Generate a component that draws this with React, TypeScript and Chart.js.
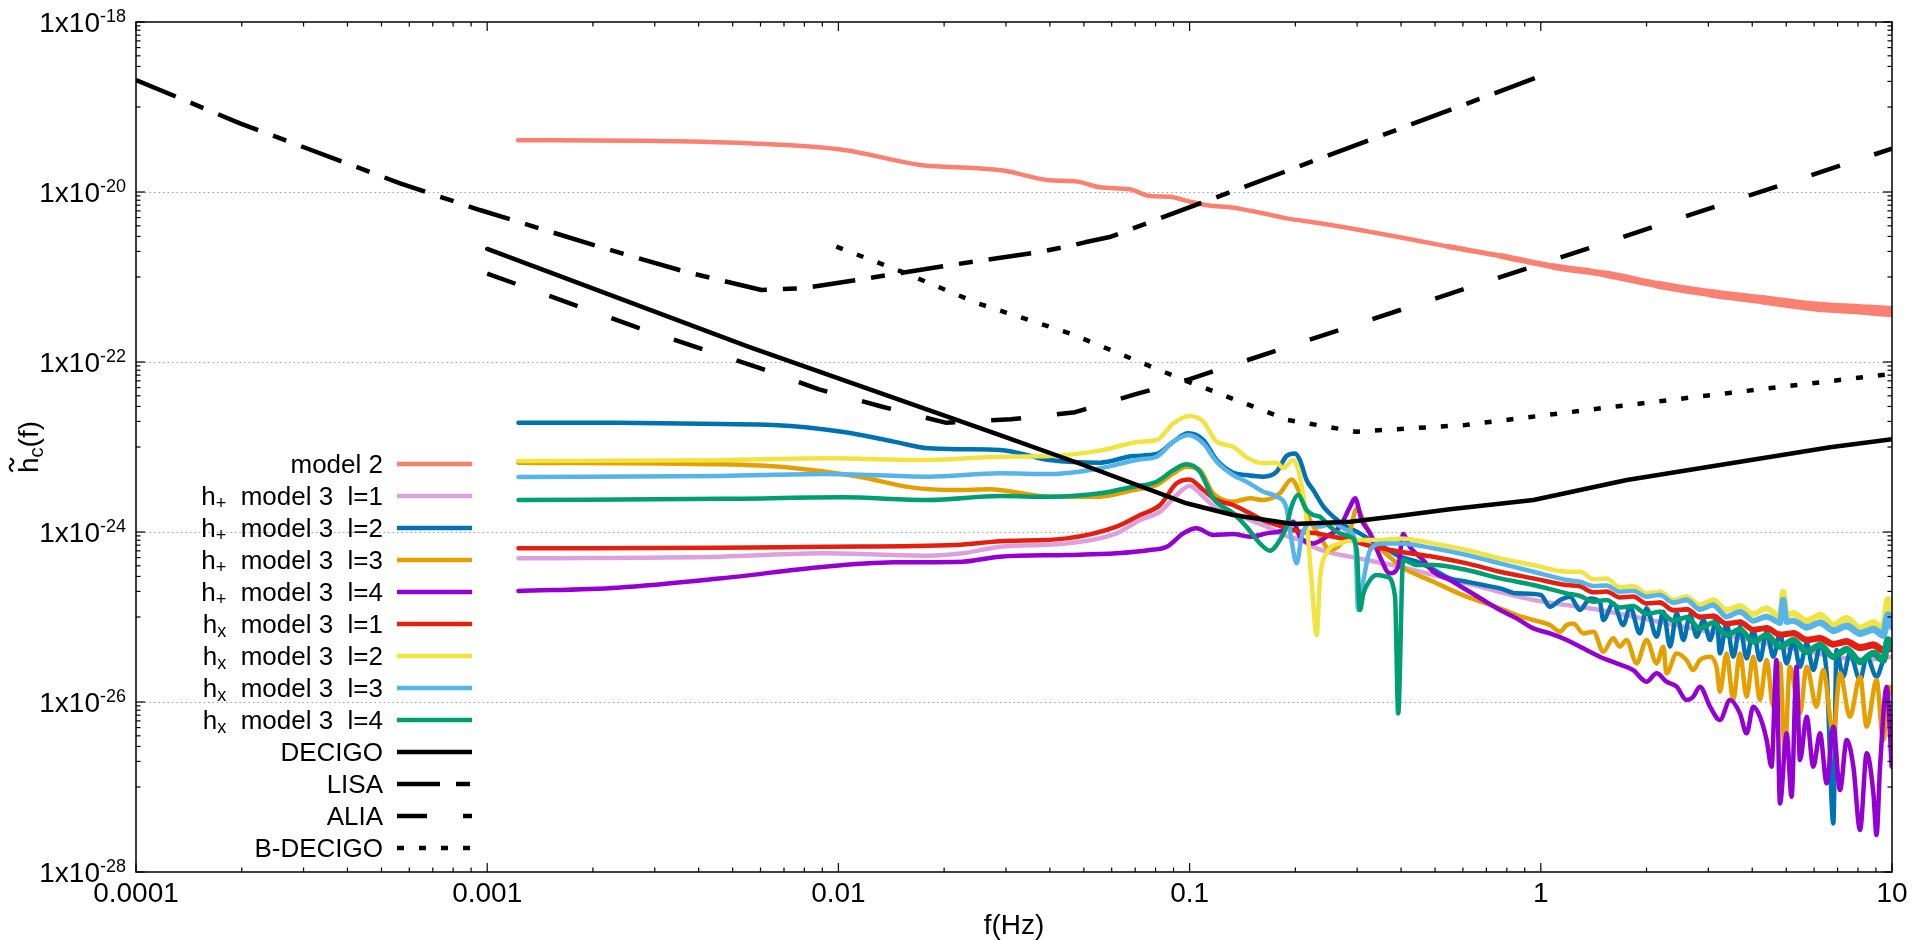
import React, { useEffect, useRef } from 'react';
import { Chart, registerables } from 'chart.js';

Chart.register(...registerables);

type P = [number, number]; // [log10 f (Hz), log10 h_c]

// ---------- data (log10 values) ----------
const model2: P[] = [
  [-2.912, -19.39], [-2.585, -19.396], [-2.257, -19.427], [-1.984, -19.506], [-1.766, -19.682], [-1.603, -19.721],
  [-1.526, -19.749], [-1.406, -19.859], [-1.319, -19.878], [-1.255, -19.945], [-1.17, -19.968], [-1.113, -20.047],
  [-1.056, -20.055], [-0.999, -20.114], [-0.933, -20.165], [-0.894, -20.173], [-0.828, -20.22], [-0.781, -20.259],
  [-0.724, -20.31], [-0.638, -20.361], [-0.543, -20.427], [-0.401, -20.533], [-0.263, -20.643], [-0.113, -20.753],
  [0.037, -20.878], [0.187, -20.968], [0.337, -21.094], [0.486, -21.192], [0.636, -21.27], [0.786, -21.349],
  [0.936, -21.388], [1.0, -21.408],
];

const hPlusL1: P[] = [
  [-2.911, -24.31], [-2.333, -24.29], [-2.039, -24.251], [-1.744, -24.278], [-1.646, -24.25], [-1.54, -24.173],
  [-1.35, -24.134], [-1.208, -24.016], [-1.141, -23.859], [-1.084, -23.761], [-1.037, -23.565], [-1.0, -23.459],
  [-0.961, -23.585], [-0.923, -23.722], [-0.876, -23.78], [-0.828, -23.859], [-0.781, -23.937], [-0.733, -24.035],
  [-0.686, -24.094], [-0.638, -24.192], [-0.591, -24.251], [-0.543, -24.29], [-0.496, -24.33], [-0.401, -24.408],
  [-0.306, -24.506], [-0.211, -24.604], [-0.021, -24.8], [0.074, -24.859], [0.168, -24.918], [0.358, -25.075],
  [0.548, -25.232], [0.738, -25.389], [0.928, -25.506], [1.0, -25.467],
];

const hPlusL2: P[] = [
  [-2.911, -22.714], [-2.628, -22.716], [-2.333, -22.73], [-2.186, -22.741], [-1.99, -22.82], [-1.842, -22.937],
  [-1.744, -23.016], [-1.646, -23.027], [-1.54, -23.035], [-1.398, -23.153], [-1.255, -23.184], [-1.16, -23.106],
  [-1.094, -23.083], [-1.046, -22.937], [-1.004, -22.839], [-0.961, -22.918], [-0.923, -23.153], [-0.876, -23.302],
  [-0.838, -23.33], [-0.79, -23.349], [-0.752, -23.29], [-0.724, -23.106], [-0.7, -23.075], [-0.686, -23.153],
  [-0.667, -23.388], [-0.648, -23.506], [-0.619, -23.702], [-0.591, -23.82], [-0.553, -23.937], [-0.515, -24.016],
  [-0.486, -24.094], [-0.449, -24.173], [-0.401, -24.29], [-0.353, -24.349], [-0.306, -24.44], [-0.259, -24.546],
  [-0.211, -24.585], [-0.164, -24.624], [-0.116, -24.663], [-0.069, -24.722], [0.0, -24.741], [0.026, -24.879],
  [0.055, -24.8], [0.083, -24.761], [0.112, -24.918], [0.14, -24.781], [0.168, -24.82], [0.178, -25.036],
  [0.206, -24.84], [0.235, -25.094], [0.254, -24.879], [0.282, -25.193], [0.301, -24.898], [0.33, -25.232],
  [0.349, -24.938], [0.368, -25.349], [0.387, -24.957], [0.406, -25.271], [0.425, -24.977], [0.444, -25.232],
  [0.463, -25.036], [0.482, -25.271], [0.501, -24.996], [0.51, -25.428], [0.529, -25.075], [0.548, -25.467],
  [0.567, -25.114], [0.586, -25.487], [0.605, -25.153], [0.624, -25.506], [0.643, -25.173], [0.662, -25.467],
  [0.681, -25.193], [0.7, -25.546], [0.719, -25.271], [0.738, -25.585], [0.757, -25.31], [0.776, -25.624],
  [0.795, -25.349], [0.814, -25.663], [0.833, -27.428], [0.842, -25.389], [0.861, -25.702], [0.88, -25.428],
  [0.909, -25.742], [0.928, -25.467], [0.956, -25.702], [0.975, -25.506], [0.994, -25.271], [1.0, -25.389],
];

const hPlusL3: P[] = [
  [-2.911, -23.184], [-2.333, -23.204], [-2.137, -23.243], [-1.941, -23.349], [-1.793, -23.475], [-1.665, -23.506],
  [-1.567, -23.498], [-1.54, -23.506], [-1.398, -23.585], [-1.255, -23.585], [-1.16, -23.506], [-1.094, -23.447],
  [-1.046, -23.31], [-1.009, -23.232], [-0.971, -23.271], [-0.933, -23.545], [-0.876, -23.643], [-0.828, -23.604],
  [-0.79, -23.624], [-0.743, -23.545], [-0.71, -23.381], [-0.686, -23.545], [-0.657, -23.859], [-0.629, -24.055],
  [-0.6, -24.212], [-0.572, -24.153], [-0.543, -23.976], [-0.524, -23.722], [-0.505, -23.859], [-0.477, -24.094],
  [-0.42, -24.33], [-0.401, -24.4], [-0.306, -24.585], [-0.211, -24.761], [-0.116, -24.898], [-0.069, -24.977],
  [-0.021, -25.036], [0.026, -25.094], [0.055, -25.173], [0.074, -25.094], [0.093, -25.075], [0.121, -25.193],
  [0.15, -25.173], [0.178, -25.408], [0.206, -25.251], [0.225, -25.349], [0.244, -25.271], [0.273, -25.546],
  [0.301, -25.271], [0.33, -25.546], [0.349, -25.349], [0.358, -25.663], [0.387, -25.428], [0.415, -25.506],
  [0.434, -25.624], [0.453, -25.506], [0.482, -25.467], [0.501, -25.604], [0.51, -25.879], [0.529, -25.428],
  [0.548, -25.977], [0.567, -25.428], [0.586, -25.938], [0.605, -25.467], [0.624, -25.977], [0.643, -25.506],
  [0.662, -26.055], [0.681, -25.546], [0.695, -26.604], [0.709, -25.585], [0.738, -26.134], [0.757, -25.585],
  [0.785, -26.055], [0.804, -25.624], [0.833, -26.369], [0.852, -25.663], [0.88, -26.173], [0.909, -25.702],
  [0.928, -26.291], [0.956, -25.742], [0.975, -26.447], [0.994, -25.82], [1.0, -25.9],
];

const hPlusL4: P[] = [
  [-2.911, -24.694], [-2.628, -24.655], [-2.333, -24.545], [-2.039, -24.408], [-1.842, -24.357], [-1.646, -24.349],
  [-1.54, -24.29], [-1.35, -24.27], [-1.208, -24.251], [-1.113, -24.212], [-1.065, -24.173], [-1.018, -24.016],
  [-0.98, -23.957], [-0.933, -24.035], [-0.876, -24.024], [-0.828, -24.055], [-0.781, -24.016], [-0.733, -23.976],
  [-0.705, -23.879], [-0.686, -24.055], [-0.648, -24.134], [-0.61, -24.055], [-0.572, -23.937], [-0.543, -23.702],
  [-0.529, -23.604], [-0.51, -23.859], [-0.486, -24.016], [-0.458, -24.29], [-0.43, -24.486], [-0.406, -24.408],
  [-0.392, -24.024], [-0.373, -24.173], [-0.335, -24.33], [-0.306, -24.467], [-0.259, -24.565], [-0.211, -24.682],
  [-0.164, -24.8], [-0.116, -24.918], [-0.069, -25.016], [-0.021, -25.134], [0.026, -25.193], [0.074, -25.271],
  [0.121, -25.369], [0.168, -25.467], [0.216, -25.546], [0.263, -25.624], [0.301, -25.761], [0.33, -25.663],
  [0.358, -25.761], [0.387, -25.82], [0.415, -25.977], [0.434, -25.938], [0.453, -25.82], [0.482, -26.055],
  [0.51, -26.212], [0.539, -25.977], [0.567, -26.134], [0.586, -26.369], [0.605, -26.055], [0.624, -26.173],
  [0.643, -26.447], [0.657, -26.761], [0.671, -25.506], [0.681, -27.193], [0.7, -26.369], [0.714, -27.114],
  [0.728, -25.585], [0.738, -26.683], [0.757, -26.173], [0.776, -26.761], [0.795, -26.369], [0.814, -26.957],
  [0.833, -26.291], [0.852, -27.036], [0.871, -26.447], [0.89, -26.761], [0.909, -27.506], [0.928, -26.604],
  [0.947, -27.075], [0.956, -27.565], [0.966, -26.761], [0.985, -25.82], [0.999, -26.761],
];

const hCrossL1: P[] = [
  [-2.911, -24.192], [-2.333, -24.185], [-2.039, -24.173], [-1.665, -24.153], [-1.54, -24.11], [-1.35, -24.075],
  [-1.208, -23.937], [-1.141, -23.8], [-1.084, -23.682], [-1.037, -23.427], [-1.0, -23.381], [-0.961, -23.506],
  [-0.923, -23.624], [-0.876, -23.682], [-0.828, -23.78], [-0.781, -23.879], [-0.733, -23.937], [-0.686, -23.996],
  [-0.638, -24.016], [-0.591, -24.055], [-0.543, -24.094], [-0.496, -24.153], [-0.401, -24.232], [-0.306, -24.291],
  [-0.211, -24.369], [-0.116, -24.467], [-0.021, -24.546], [0.074, -24.624], [0.112, -24.64], [0.15, -24.71],
  [0.187, -24.7], [0.225, -24.77], [0.263, -24.76], [0.301, -24.84], [0.339, -24.83], [0.377, -24.92],
  [0.415, -24.91], [0.453, -25.0], [0.491, -24.99], [0.529, -25.08], [0.567, -25.06], [0.605, -25.15],
  [0.643, -25.13], [0.681, -25.21], [0.719, -25.19], [0.757, -25.27], [0.795, -25.25], [0.833, -25.32],
  [0.871, -25.29], [0.909, -25.36], [0.947, -25.33], [0.975, -25.39], [1.0, -25.36],
];

const hCrossL2: P[] = [
  [-2.911, -23.165], [-2.333, -23.155], [-2.039, -23.133], [-1.744, -23.153], [-1.54, -23.114], [-1.398, -23.106],
  [-1.255, -23.043], [-1.141, -22.937], [-1.094, -22.918], [-1.046, -22.722], [-1.0, -22.636], [-0.961, -22.702],
  [-0.923, -22.937], [-0.876, -22.996], [-0.838, -23.122], [-0.79, -23.192], [-0.752, -23.184], [-0.733, -23.251],
  [-0.705, -23.153], [-0.686, -23.349], [-0.667, -23.859], [-0.653, -24.565], [-0.638, -25.212], [-0.629, -24.565],
  [-0.61, -24.251], [-0.572, -24.134], [-0.515, -24.094], [-0.449, -24.094], [-0.401, -24.075], [-0.306, -24.134],
  [-0.211, -24.212], [-0.116, -24.31], [-0.021, -24.389], [0.074, -24.467], [0.112, -24.467], [0.15, -24.557],
  [0.187, -24.547], [0.225, -24.651], [0.263, -24.636], [0.301, -24.722], [0.339, -24.702], [0.377, -24.8],
  [0.415, -24.761], [0.453, -24.859], [0.491, -24.8], [0.529, -24.918], [0.567, -24.871], [0.605, -24.965],
  [0.643, -24.898], [0.681, -24.996], [0.69, -24.702], [0.7, -24.977], [0.719, -24.957], [0.757, -25.044],
  [0.795, -24.977], [0.833, -25.094], [0.871, -25.016], [0.909, -25.134], [0.947, -25.067], [0.975, -25.146],
  [0.989, -24.8], [1.0, -24.957],
];

const hCrossL3: P[] = [
  [-2.911, -23.353], [-2.333, -23.34], [-2.039, -23.318], [-1.744, -23.349], [-1.54, -23.31], [-1.398, -23.318],
  [-1.255, -23.251], [-1.141, -23.145], [-1.094, -23.114], [-1.046, -22.937], [-1.004, -22.859], [-0.961, -22.957],
  [-0.923, -23.173], [-0.876, -23.33], [-0.838, -23.408], [-0.79, -23.526], [-0.752, -23.585], [-0.724, -23.722],
  [-0.71, -24.094], [-0.695, -24.369], [-0.681, -24.055], [-0.657, -23.898], [-0.629, -23.937], [-0.591, -23.898],
  [-0.553, -23.976], [-0.529, -24.094], [-0.52, -24.918], [-0.505, -24.565], [-0.486, -24.212], [-0.449, -24.134],
  [-0.401, -24.134], [-0.306, -24.192], [-0.211, -24.271], [-0.116, -24.369], [-0.021, -24.467], [0.074, -24.565],
  [0.112, -24.585], [0.15, -24.636], [0.187, -24.63], [0.225, -24.702], [0.263, -24.691], [0.301, -24.761],
  [0.339, -24.741], [0.377, -24.832], [0.415, -24.8], [0.453, -24.91], [0.491, -24.859], [0.529, -24.996],
  [0.567, -24.938], [0.605, -25.044], [0.643, -24.996], [0.681, -25.067], [0.69, -24.8], [0.7, -25.055],
  [0.719, -25.044], [0.757, -25.122], [0.795, -25.067], [0.833, -25.161], [0.871, -25.106], [0.909, -25.193],
  [0.947, -25.146], [0.975, -25.212], [0.989, -24.977], [1.0, -25.114],
];

const hCrossL4: P[] = [
  [-2.911, -23.624], [-2.333, -23.61], [-1.99, -23.592], [-1.744, -23.624], [-1.54, -23.577], [-1.398, -23.585],
  [-1.255, -23.545], [-1.16, -23.467], [-1.094, -23.408], [-1.046, -23.271], [-1.009, -23.204], [-0.971, -23.29],
  [-0.933, -23.604], [-0.876, -23.78], [-0.838, -23.937], [-0.8, -24.134], [-0.771, -24.22], [-0.743, -24.094],
  [-0.724, -23.937], [-0.71, -23.702], [-0.691, -23.565], [-0.667, -23.741], [-0.648, -23.8], [-0.629, -23.82],
  [-0.6, -23.937], [-0.572, -24.016], [-0.543, -24.055], [-0.524, -24.212], [-0.515, -24.918], [-0.505, -24.722],
  [-0.486, -24.565], [-0.467, -24.506], [-0.439, -24.526], [-0.415, -24.761], [-0.406, -26.134], [-0.392, -24.33],
  [-0.354, -24.388], [-0.306, -24.389], [-0.211, -24.447], [-0.116, -24.546], [-0.021, -24.624], [0.074, -24.722],
  [0.112, -24.753], [0.15, -24.82], [0.187, -24.8], [0.225, -24.887], [0.263, -24.871], [0.301, -24.965],
  [0.339, -24.938], [0.377, -25.044], [0.415, -25.004], [0.453, -25.134], [0.491, -25.067], [0.529, -25.212],
  [0.567, -25.146], [0.605, -25.291], [0.643, -25.212], [0.681, -25.349], [0.719, -25.271], [0.757, -25.408],
  [0.795, -25.33], [0.833, -25.467], [0.871, -25.381], [0.909, -25.526], [0.947, -25.428], [0.975, -25.506],
  [0.989, -25.271], [1.0, -25.349],
];

const decigo: P[] = [
  [-3.0, -20.67], [-2.257, -21.82], [-1.54, -22.86], [-1.31, -23.2], [-1.009, -23.662], [-0.876, -23.8],
  [-0.705, -23.906], [-0.543, -23.879], [-0.401, -23.81], [-0.259, -23.733], [-0.021, -23.624], [0.245, -23.388],
  [0.824, -23.004], [1.0, -22.91],
];

const lisa: P[] = [
  [-4.0, -18.682], [-3.704, -19.192], [-3.248, -19.898], [-3.021, -20.212], [-2.682, -20.643], [-2.437, -20.937],
  [-2.219, -21.153], [-2.104, -21.133], [-1.935, -21.027], [-1.679, -20.859], [-1.422, -20.702], [-1.341, -20.635],
  [-1.298, -20.592], [-1.224, -20.526], [0.0, -18.635],
];

const alia: P[] = [
  [-3.0, -20.96], [-2.579, -21.585], [-2.23, -22.063], [-2.055, -22.322], [-1.875, -22.526], [-1.695, -22.714],
  [-1.591, -22.69], [-1.509, -22.674], [-1.326, -22.59], [-1.151, -22.376], [-1.008, -22.212], [1.0, -19.49],
];

const bDecigo: P[] = [
  [-2.006, -20.643], [-1.82, -20.937], [-1.603, -21.31], [-1.341, -21.663], [-1.016, -22.212], [-0.72, -22.682],
  [-0.526, -22.82], [-0.215, -22.741], [0.171, -22.545], [0.542, -22.361], [1.0, -22.14],
];

const seriesLabels = [
  'model 2',
  'h₊  model 3  l=1', 'h₊  model 3  l=2', 'h₊  model 3  l=3', 'h₊  model 3  l=4',
  'hₓ  model 3  l=1', 'hₓ  model 3  l=2', 'hₓ  model 3  l=3', 'hₓ  model 3  l=4',
  'DECIGO', 'LISA', 'ALIA', 'B-DECIGO',
];
const seriesData: P[][] = [
  model2, hPlusL1, hPlusL2, hPlusL3, hPlusL4, hCrossL1, hCrossL2, hCrossL3, hCrossL4, decigo, lisa, alia, bDecigo,
];

const xTickValues = [1e-4, 1e-3, 1e-2, 1e-1, 1, 10];
const xTickLabels = ['0.0001', '0.001', '0.01', '0.1', '1', '10'];
const yTickExponents = [-18, -20, -22, -24, -26, -28];
const xTitle = 'f(Hz)';

// ---------- styles ----------
const FONT = '"Liberation Sans", Arial, Helvetica, sans-serif';
const colors = [
  '#FA8072', '#DDA0DD', '#0072B2', '#E69F00', '#9400D3', '#E51E10', '#F0E442', '#56B4E9', '#009E73',
  '#000000', '#000000', '#000000', '#000000',
];
const dashes: number[][] = [[], [], [], [], [], [], [], [], [], [], [43, 16, 14, 16], [30, 36], [7, 15]];
const smooth = [true, true, true, true, true, true, true, true, true, false, false, false, false];
// which series get a thickening noise band at high frequency: [start log10 f, growth per decade]
const bands: ([number, number] | null)[] = [
  [-0.4, 5], null, null, null, null, [0.3, 4], [0.3, 4], [0.3, 4], [0.3, 4], null, null, null, null,
];
const LINE_W = 4.5;

const frame = { left: 136, top: 22, right: 1892, bottom: 872 };

const axesPlugin = {
  id: 'gnuplotAxes',
  beforeDatasetsDraw(chart: any) {
    const { ctx } = chart;
    const ys = chart.scales.y;
    const { left, right } = chart.chartArea;
    ctx.save();
    ctx.strokeStyle = '#a0a0a0';
    ctx.lineWidth = 1;
    ctx.setLineDash([1.5, 3]);
    yTickExponents.forEach((e) => {
      if (e === -18 || e === -28) return;
      const y = Math.round(ys.getPixelForValue(Math.pow(10, e))) + 0.5;
      ctx.beginPath();
      ctx.moveTo(left, y);
      ctx.lineTo(right, y);
      ctx.stroke();
    });
    ctx.restore();
  },
  afterDatasetsDraw(chart: any) {
    const { ctx } = chart;
    const xs = chart.scales.x;
    const ys = chart.scales.y;
    const { left, right, top, bottom } = chart.chartArea;
    ctx.save();
    ctx.setLineDash([]);
    ctx.strokeStyle = '#000';
    ctx.lineWidth = 1.5;
    ctx.strokeRect(left, top, right - left, bottom - top);

    ctx.lineWidth = 1.2;
    const tick = (x1: number, y1: number, x2: number, y2: number) => {
      ctx.beginPath();
      ctx.moveTo(x1, y1);
      ctx.lineTo(x2, y2);
      ctx.stroke();
    };
    for (let n = -4; n <= 1; n++) {
      const xm = xs.getPixelForValue(Math.pow(10, n));
      tick(xm, bottom, xm, bottom - 9);
      tick(xm, top, xm, top + 9);
      if (n < 1) {
        for (let k = 2; k <= 9; k++) {
          const x = xs.getPixelForValue(k * Math.pow(10, n));
          tick(x, bottom, x, bottom - 4.5);
          tick(x, top, x, top + 4.5);
        }
      }
    }
    yTickExponents.forEach((e) => {
      const y = ys.getPixelForValue(Math.pow(10, e));
      tick(left, y, left + 9, y);
      tick(right, y, right - 9, y);
      if (e > -28) {
        for (let j = 1; j <= 9; j++) {
          const ym = ys.getPixelForValue(j * Math.pow(10, e - 1));
          tick(left, ym, left + 4.5, ym);
          tick(right, ym, right - 4.5, ym);
        }
      }
    });

    ctx.fillStyle = '#000';
    ctx.font = `28px ${FONT}`;
    ctx.textAlign = 'center';
    ctx.textBaseline = 'alphabetic';
    xTickValues.forEach((v, i) => {
      ctx.fillText(xTickLabels[i], xs.getPixelForValue(v), 902);
    });
    yTickExponents.forEach((e) => {
      const y = ys.getPixelForValue(Math.pow(10, e));
      const sup = String(e);
      ctx.font = `18px ${FONT}`;
      const ws = ctx.measureText(sup).width;
      ctx.textAlign = 'left';
      ctx.fillText(sup, 126 - ws, y);
      ctx.font = `28px ${FONT}`;
      ctx.textAlign = 'right';
      ctx.fillText('1x10', 126 - ws, y + 10);
    });
    ctx.font = `28px ${FONT}`;
    ctx.textAlign = 'center';
    ctx.fillText(xTitle, (left + right) / 2, 934);

    // y title
    ctx.save();
    ctx.translate(38, (top + bottom) / 2);
    ctx.rotate(-Math.PI / 2);
    ctx.textAlign = 'left';
    ctx.font = `28px ${FONT}`;
    const wh = ctx.measureText('h').width;
    ctx.font = `20px ${FONT}`;
    const wc = ctx.measureText('c').width;
    ctx.font = `28px ${FONT}`;
    const wf = ctx.measureText('(f)').width;
    const x0 = -(wh + wc + wf) / 2;
    ctx.fillText('h', x0, 0);
    ctx.font = `20px ${FONT}`;
    ctx.fillText('c', x0 + wh, 5);
    ctx.font = `28px ${FONT}`;
    ctx.fillText('(f)', x0 + wh + wc, 0);
    ctx.lineWidth = 2;
    ctx.beginPath();
    const tx = x0 + 1.5;
    const ty = -26.5;
    ctx.moveTo(tx, ty + 1.5);
    ctx.bezierCurveTo(tx + 3, ty - 3.5, tx + 6, ty - 2, tx + 7, ty);
    ctx.bezierCurveTo(tx + 8, ty + 2, tx + 11, ty + 3.5, tx + 13, ty - 1.5);
    ctx.stroke();
    ctx.restore();

    // legend
    seriesLabels.forEach((label, i) => {
      const y = 464 + i * 32;
      ctx.save();
      ctx.strokeStyle = colors[i];
      ctx.lineWidth = LINE_W;
      ctx.lineCap = 'butt';
      ctx.setLineDash(dashes[i]);
      ctx.beginPath();
      ctx.moveTo(397, y);
      ctx.lineTo(472, y);
      ctx.stroke();
      ctx.restore();

      ctx.fillStyle = '#000';
      ctx.textAlign = 'right';
      let rx = 383;
      const m = label.match(/^h([₊ₓ])(.*)$/);
      if (m) {
        ctx.font = `26px ${FONT}`;
        ctx.fillText(m[2], rx, y + 9);
        rx -= ctx.measureText(m[2]).width;
        const sub = m[1] === '₊' ? '+' : 'x';
        ctx.font = `18px ${FONT}`;
        ctx.fillText(sub, rx, y + 13);
        rx -= ctx.measureText(sub).width;
        ctx.font = `26px ${FONT}`;
        ctx.fillText('h', rx, y + 9);
      } else {
        ctx.font = `26px ${FONT}`;
        ctx.fillText(label, rx, y + 9);
      }
    });
    ctx.restore();
  },
};

export default function App() {
  const ref = useRef<HTMLCanvasElement>(null);
  useEffect(() => {
    document.body.style.margin = '0';
    const canvas = ref.current;
    if (!canvas) return;
    const datasets = seriesData.map((pts, i) => {
      const band = bands[i];
      const ds: any = {
        label: seriesLabels[i],
        data: pts.map((p) => ({ x: Math.pow(10, p[0]), y: Math.pow(10, p[1]) })),
        showLine: true,
        pointRadius: 0,
        borderColor: colors[i],
        backgroundColor: colors[i],
        borderWidth: LINE_W,
        borderDash: dashes[i],
        borderCapStyle: dashes[i].length ? 'butt' : 'round',
        borderJoinStyle: 'round',
        tension: 0,
        cubicInterpolationMode: smooth[i] ? 'monotone' : 'default',
        fill: false,
        clip: 0,
        order: -i,
      };
      if (band) {
        ds.segment = {
          borderWidth: (c: any) =>
            LINE_W + Math.max(0, Math.log10(c.p0.parsed.x) - band[0]) * band[1],
        };
      }
      return ds;
    });
    const chart = new Chart(canvas, {
      type: 'scatter',
      data: { datasets },
      options: {
        animation: false,
        responsive: false,
        events: [],
        layout: {
          padding: { left: frame.left, top: frame.top, right: 1920 - frame.right, bottom: 940 - frame.bottom },
        },
        plugins: { legend: { display: false }, tooltip: { enabled: false } },
        scales: {
          x: { type: 'logarithmic', min: 1e-4, max: 10, display: false },
          y: { type: 'logarithmic', min: 1e-28, max: 1e-18, display: false },
        },
      },
      plugins: [axesPlugin],
    } as any);
    return () => chart.destroy();
  }, []);
  return (
    <canvas
      ref={ref}
      width={1920}
      height={940}
      style={{ display: 'block', width: '1920px', height: '940px', background: '#fff' }}
    />
  );
}
